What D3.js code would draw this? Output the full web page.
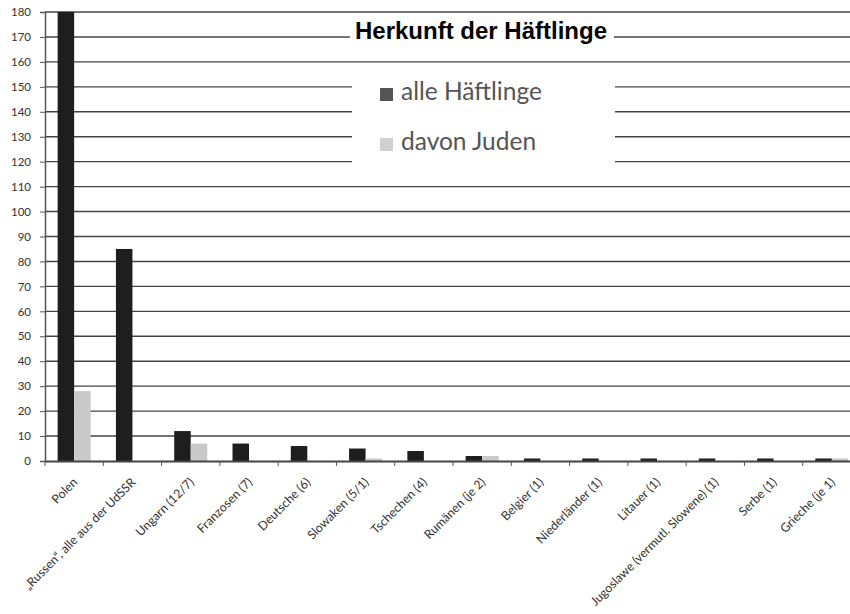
<!DOCTYPE html>
<html><head><meta charset="utf-8">
<script src="https://cdn.jsdelivr.net/npm/d3@7"></script>
<style>
html,body{margin:0;padding:0;background:#fff;}
svg{display:block;}
</style></head>
<body>
<svg id="c" width="850" height="614"></svg>
<script>
const categories = ["Polen","„Russen“, alle aus der UdSSR","Ungarn (12/7)","Franzosen (7)","Deutsche (6)","Slowaken (5/1)","Tschechen (4)","Rumänen (je 2)","Belgier (1)","Niederländer (1)","Litauer (1)","Jugoslawe (vermutl. Slowene) (1)","Serbe (1)","Grieche (je 1)"];
const alleHaeftlinge = [180,85,12,7,6,5,4,2,1,1,1,1,1,1];
const davonJuden = [28,0,7,0,0,1,0,2,0,0,0,0,0,1];
const seriesNames = ["alle Häftlinge","davon Juden"];
const yTicks = [0,10,20,30,40,50,60,70,80,90,100,110,120,130,140,150,160,170,180];
const title = "Herkunft der Häftlinge";

const svg = d3.select("#c");
const mLeft = 45, mTop = 12, mBottom = 461, mRight = 861;
const y = d3.scaleLinear().domain([0,180]).range([mBottom, mTop]);
const x = d3.scaleBand().domain(categories).range([mLeft, mRight]);
const xs = d3.scaleBand().domain(seriesNames).range([x.bandwidth()/2 - 16.5, x.bandwidth()/2 + 16.5]);
const colors = {"alle Häftlinge":"#1e1e1e","davon Juden":"#c9c9c9"};

// gridlines
svg.append("g").selectAll("line").data(yTicks.filter(d=>d>0)).join("line")
  .attr("x1", mLeft).attr("x2", 850).attr("y1", d=>y(d)).attr("y2", d=>y(d))
  .attr("stroke", "#444").attr("stroke-width", 1.4);

// y axis
const yAxis = d3.axisLeft(y).tickValues(yTicks).tickSize(5).tickPadding(9);
const gy = svg.append("g").attr("transform", `translate(${mLeft},0)`).call(yAxis);
gy.select(".domain").attr("stroke", "#555").attr("stroke-width", 1.5);
gy.selectAll(".tick line").attr("stroke", "#555");
gy.selectAll("text").attr("font-family", "Lato, 'Open Sans', sans-serif").attr("font-size", 11.5).attr("fill", "#333");

// bars
const groups = svg.append("g").selectAll("g").data(categories).join("g")
  .attr("transform", d=>`translate(${x(d)},0)`);
groups.selectAll("rect").data((d,i)=>[
  {s:"alle Häftlinge", v:alleHaeftlinge[i]},
  {s:"davon Juden", v:davonJuden[i]}
]).join("rect")
  .attr("x", d=>xs(d.s)).attr("width", xs.bandwidth())
  .attr("y", d=>y(d.v)).attr("height", d=>y(0)-y(d.v))
  .attr("fill", d=>colors[d.s]);

// x axis
const xAxis = d3.axisBottom(x).tickSize(0).tickFormat(d=>d);
const gx = svg.append("g").attr("transform", `translate(0,${mBottom})`).call(xAxis);
gx.select(".domain").attr("stroke", "#444").attr("stroke-width", 1.8);
gx.selectAll(".tick text")
  .attr("font-family", "Lato, 'Open Sans', sans-serif").attr("font-size", 12.3).attr("fill", "#333")
  .attr("text-anchor", "end").attr("dy", 0).attr("y", 0)
  .attr("transform", "translate(4,22) rotate(-45)");
// boundary ticks
svg.append("g").selectAll("line").data(categories.map(c=>x(c))).join("line")
  .attr("x1", d=>d).attr("x2", d=>d).attr("y1", mBottom).attr("y2", mBottom+5)
  .attr("stroke", "#555");

// title box
svg.append("rect").attr("x", 350).attr("y", 20).attr("width", 264).attr("height", 28).attr("fill", "#fff");
svg.append("text").attr("x", 481).attr("y", 39).attr("text-anchor", "middle")
  .attr("font-family", "'Liberation Sans', Arial, sans-serif").attr("font-weight", "bold")
  .attr("font-size", 24).attr("fill", "#000").text(title);

// legend
svg.append("rect").attr("x", 352).attr("y", 66).attr("width", 263).attr("height", 99).attr("fill", "#fff");
const leg = svg.append("g").selectAll("g").data(seriesNames).join("g")
  .attr("transform", (d,i)=>`translate(380,${88 + i*50})`);
leg.append("rect").attr("width", 13).attr("height", 13).attr("fill", d=>d==="alle Häftlinge" ? "#555" : "#d0d0d0");
leg.append("text").attr("x", 21).attr("y", 12).attr("font-family", "Lato, 'Open Sans', sans-serif")
  .attr("font-size", 24.5).attr("fill", "#555").text(d=>d);
</script>
</body></html>
